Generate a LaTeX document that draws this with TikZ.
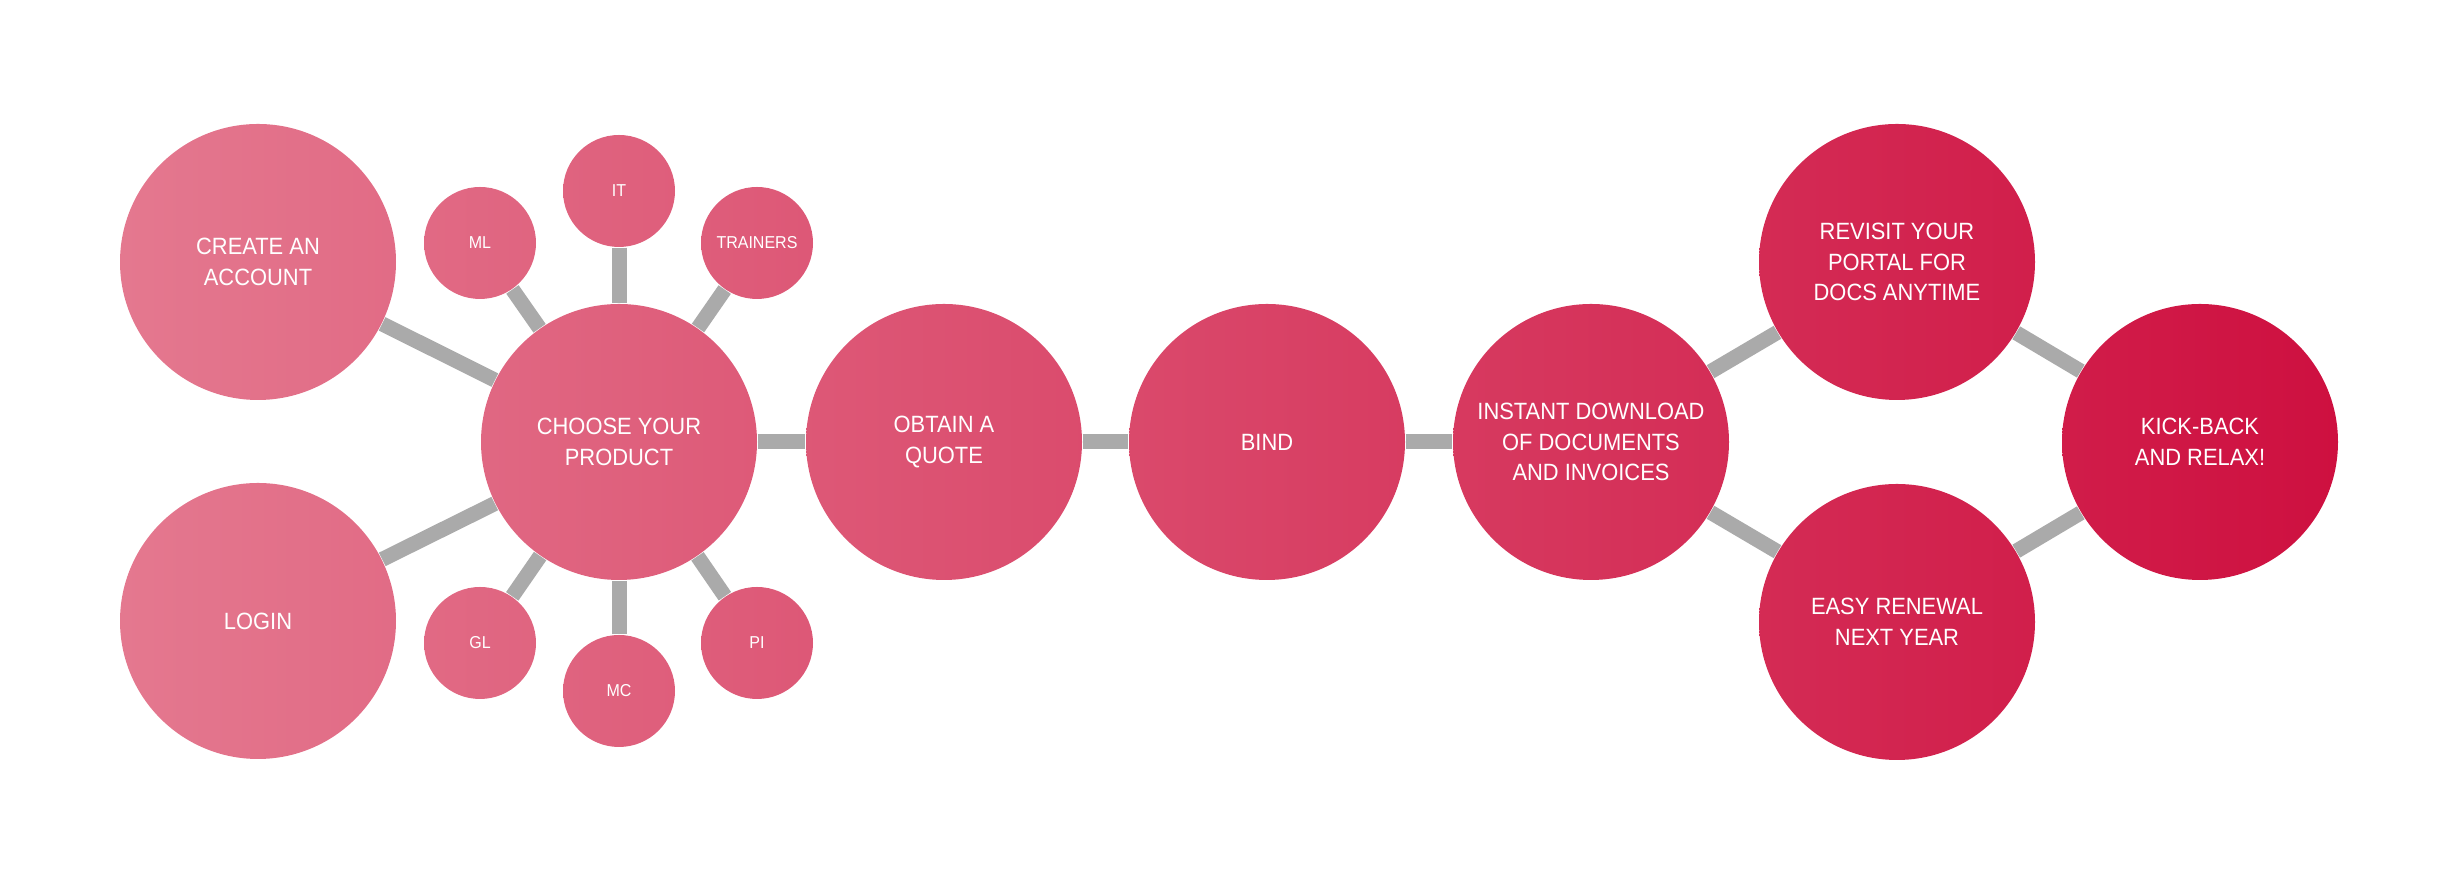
\documentclass[tikz,border=0pt]{standalone}
\usepackage{fontspec}
\setmainfont{Liberation Sans}[FakeStretch=0.93]
\usepackage{xcolor}
\usepackage{tikz}
\usetikzlibrary{positioning}

\definecolor{pinkL}{HTML}{E4788F}
\definecolor{pinkR}{HTML}{CE1040}
\definecolor{linkgray}{HTML}{AAAAAA}

\tikzset{
  bubble/.style 2 args={circle, minimum size=2.76cm, inner sep=0pt, align=center,
    text=white, font=\fontsize{6.7}{8.7}\selectfont,
    left color=pinkR!#1!pinkL, right color=pinkR!#2!pinkL},
  smallbubble/.style 2 args={bubble={#1}{#2}, minimum size=1.12cm,
    font=\fontsize{4.9}{6}\selectfont},
  link/.style={draw=linkgray, line width=0.15cm}
}

\begin{document}
\begin{tikzpicture}
\useasboundingbox (0,0) rectangle (24.58,8.84);

\node[bubble={0}{12}] (create) at (2.58, 6.22) {CREATE AN\\ACCOUNT};
\node[bubble={0}{12}] (login) at (2.58, 2.63) {LOGIN};
\node[bubble={16}{29}] (choose) at (6.19, 4.42) {CHOOSE YOUR\\PRODUCT};
\node[smallbubble={14}{19}] (ml) at (4.80, 6.41) {ML};
\node[smallbubble={20}{25}] (it) at (6.19, 6.93) {IT};
\node[smallbubble={26}{31}] (trainers) at (7.57, 6.41) {TRAINERS};
\node[smallbubble={14}{19}] (gl) at (4.80, 2.41) {GL};
\node[smallbubble={20}{25}] (mc) at (6.19, 1.93) {MC};
\node[smallbubble={26}{31}] (pi) at (7.57, 2.41) {PI};
\node[bubble={31}{43}] (quote) at (9.44, 4.42) {OBTAIN A\\QUOTE};
\node[bubble={45}{58}] (bind) at (12.67, 4.42) {BIND};
\node[bubble={60}{72}] (instant) at (15.91, 4.42) {INSTANT DOWNLOAD\\OF DOCUMENTS\\AND INVOICES};
\node[bubble={74}{86}] (revisit) at (18.97, 6.22) {REVISIT YOUR\\PORTAL FOR\\DOCS ANYTIME};
\node[bubble={74}{86}] (renewal) at (18.97, 2.62) {EASY RENEWAL\\NEXT YEAR};
\node[bubble={88}{100}] (relax) at (22.00, 4.42) {KICK-BACK\\AND RELAX!};

\draw[link] (create) -- (choose);
\draw[link] (login) -- (choose);
\draw[link] (ml) -- (choose);
\draw[link] (it) -- (choose);
\draw[link] (trainers) -- (choose);
\draw[link] (gl) -- (choose);
\draw[link] (mc) -- (choose);
\draw[link] (pi) -- (choose);
\draw[link] (choose) -- (quote);
\draw[link] (quote) -- (bind);
\draw[link] (bind) -- (instant);
\draw[link] (instant) -- (revisit);
\draw[link] (instant) -- (renewal);
\draw[link] (revisit) -- (relax);
\draw[link] (renewal) -- (relax);

\end{tikzpicture}
\end{document}
